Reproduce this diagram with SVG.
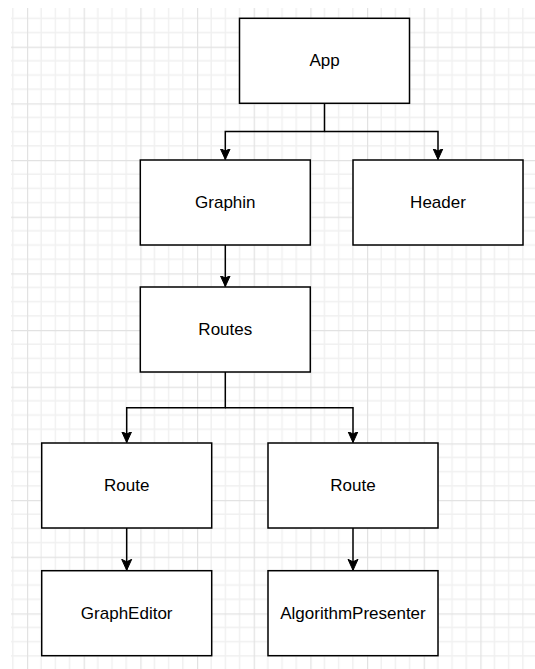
<svg xmlns="http://www.w3.org/2000/svg" width="535" height="669" viewBox="0 0 535 669">
<defs>
<pattern id="grid" patternUnits="userSpaceOnUse" x="27" y="-10" width="56.67" height="56.67">
<path d="M14.17 0V56.67M28.33 0V56.67M42.5 0V56.67M0 14.17H56.67M0 28.33H56.67M0 42.5H56.67" stroke="#f0f0f0" stroke-width="1.4" fill="none"/>
<path d="M0.5 0V56.67M0 0.5H56.67" stroke="#e2e2e2" stroke-width="1.4" fill="none"/>
</pattern>
<marker id="arr" markerUnits="userSpaceOnUse" viewBox="0 0 12 12" refX="11" refY="6" markerWidth="12" markerHeight="12" orient="auto">
<path d="M0 1 L11 6 L0 11 L2.5 6 Z" fill="#000" stroke="#000" stroke-width="1"/>
</marker>
<style>
.box{fill:#fff;stroke:#000;stroke-width:1.5}
.lbl{font-family:"Liberation Sans",Arial,sans-serif;font-size:17px;fill:#000;text-anchor:middle;dominant-baseline:central}
.con{fill:none;stroke:#000;stroke-width:1.5;marker-end:url(#arr)}
</style>
</defs>
<rect x="0" y="0" width="535" height="669" fill="#fff"/>
<rect x="11" y="8" width="524" height="661" fill="url(#grid)"/>
<g id="connectors">
<path class="con" d="M324.5 103.3V131.5H225.3V159.5"/>
<path class="con" d="M324.5 131.5H438V159.5"/>
<path class="con" d="M225.3 245V286.5"/>
<path class="con" d="M225.3 372V407.8H126.7V442.5"/>
<path class="con" d="M225.3 407.8H353V442.5"/>
<path class="con" d="M126.7 528V570.3"/>
<path class="con" d="M353 528V570.3"/>
</g>
<g id="app"><rect class="box" x="239.5" y="18.3" width="170" height="85"/><text class="lbl" x="324.5" y="60.8">App</text></g>
<g id="graphin"><rect class="box" x="140.3" y="160" width="170" height="85"/><text class="lbl" x="225.3" y="202.5">Graphin</text></g>
<g id="header"><rect class="box" x="353" y="160" width="170" height="85"/><text class="lbl" x="438" y="202.5">Header</text></g>
<g id="routes"><rect class="box" x="140.3" y="287" width="170" height="85"/><text class="lbl" x="225.3" y="329.5">Routes</text></g>
<g id="route1"><rect class="box" x="41.7" y="443" width="170" height="85"/><text class="lbl" x="126.7" y="485.5">Route</text></g>
<g id="route2"><rect class="box" x="268" y="443" width="170" height="85"/><text class="lbl" x="353" y="485.5">Route</text></g>
<g id="grapheditor"><rect class="box" x="41.7" y="570.7" width="170" height="85"/><text class="lbl" x="126.7" y="613.2">GraphEditor</text></g>
<g id="algorithmpresenter"><rect class="box" x="268" y="570.7" width="170" height="85"/><text class="lbl" x="353" y="613.2">AlgorithmPresenter</text></g>
</svg>
